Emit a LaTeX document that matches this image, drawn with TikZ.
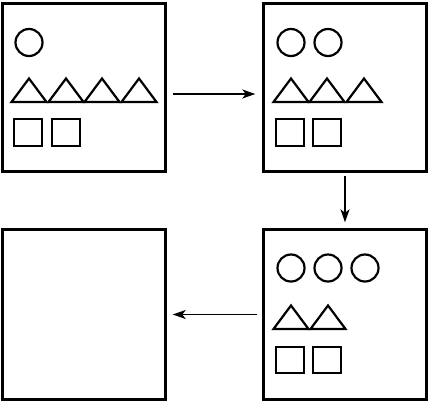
\documentclass[tikz,border=0pt]{standalone}
\usetikzlibrary{arrows.meta}
\begin{document}
\begin{tikzpicture}[x=1pt,y=-1pt,
  panel/.style={draw,line width=2.4pt,minimum width=163pt,minimum height=168pt,inner sep=0pt},
  shp/.style={draw,line width=2.2pt,line join=miter},
  arr/.style={line width=1.8pt,-{Stealth[length=13pt,width=9pt,inset=3.5pt]}}]
\useasboundingbox (0,0) rectangle (430,402);
\node[panel] (b1) at (84,87.5) {};
\node[panel] (b2) at (345,87.5) {};
\node[panel,minimum height=170pt] (b3) at (345,314.5) {};
\node[panel,minimum height=170pt] (b4) at (84,314.5) {};
% panel 1
\draw[shp] (29,42.5) circle (13.5);
\foreach \c in {29,66,102,139}{\draw[shp] (\c-17.5,102) -- (\c,78.5) -- (\c+17.5,102) -- cycle;}
\foreach \l in {14,52}{\draw[shp] (\l,119) rectangle (\l+28,146);}
% panel 2
\foreach \c in {291,328}{\draw[shp] (\c,42.5) circle (13.5);}
\foreach \c in {291,327,364}{\draw[shp] (\c-17.5,102) -- (\c,78.5) -- (\c+17.5,102) -- cycle;}
\foreach \l in {276,313}{\draw[shp] (\l,119) rectangle (\l+28,146);}
% panel 3
\foreach \c in {291,328,365}{\draw[shp] (\c,268) circle (13.5);}
\foreach \c in {291,328}{\draw[shp] (\c-17.5,329) -- (\c,305.5) -- (\c+17.5,329) -- cycle;}
\foreach \l in {276,313}{\draw[shp] (\l,347) rectangle (\l+28,373);}
% arrows
\draw[arr] ([xshift=6pt,yshift=-6.5pt]b1.east) -- ([xshift=-7pt,yshift=-6.5pt]b2.west);
\draw[arr] ([yshift=-3pt]b2.south) -- ([yshift=6pt]b3.north);
\draw[arr] ([xshift=-5pt]b3.west) -- ([xshift=6pt]b4.east);
\end{tikzpicture}
\end{document}
